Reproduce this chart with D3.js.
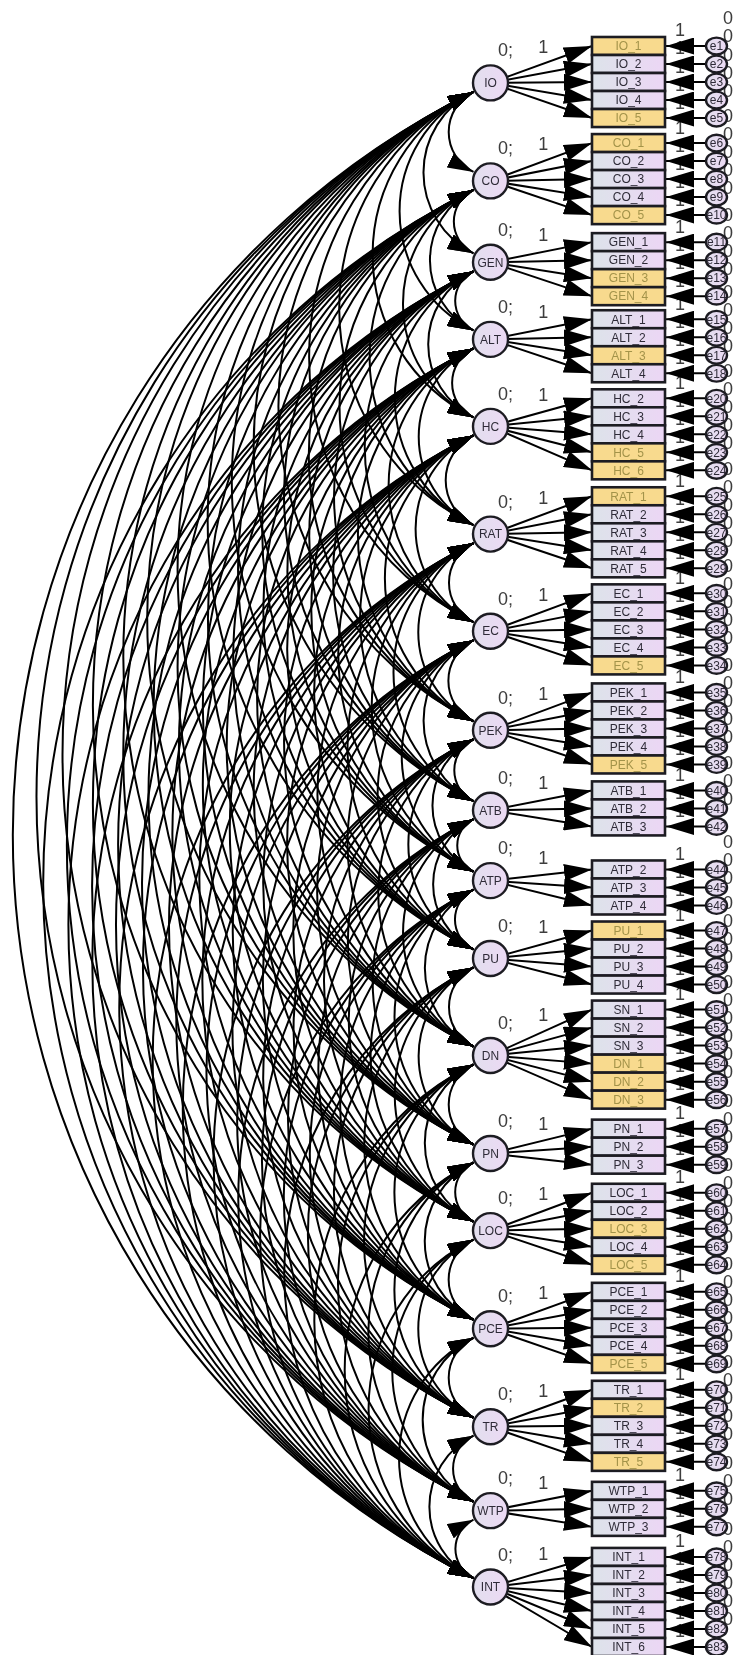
<!DOCTYPE html>
<html>
<head>
<meta charset="utf-8">
<script src="https://cdn.jsdelivr.net/npm/d3@7"></script>
<style>
  body { margin: 0; background: #fff; }
  text { font-family: "Liberation Sans", Arial, sans-serif; }
</style>
</head>
<body>
<div id="my_dataviz"></div>
<script>
// latent variables, top to bottom
const latentNames = ["IO", "CO", "GEN", "ALT", "HC", "RAT", "EC", "PEK", "ATB", "ATP", "PU", "DN", "PN", "LOC", "PCE", "TR", "WTP", "INT"];

// observed items of each latent
const indicatorLists = [
    ["IO_1", "IO_2", "IO_3", "IO_4", "IO_5"],
    ["CO_1", "CO_2", "CO_3", "CO_4", "CO_5"],
    ["GEN_1", "GEN_2", "GEN_3", "GEN_4"],
    ["ALT_1", "ALT_2", "ALT_3", "ALT_4"],
    ["HC_2", "HC_3", "HC_4", "HC_5", "HC_6"],
    ["RAT_1", "RAT_2", "RAT_3", "RAT_4", "RAT_5"],
    ["EC_1", "EC_2", "EC_3", "EC_4", "EC_5"],
    ["PEK_1", "PEK_2", "PEK_3", "PEK_4", "PEK_5"],
    ["ATB_1", "ATB_2", "ATB_3"],
    ["ATP_2", "ATP_3", "ATP_4"],
    ["PU_1", "PU_2", "PU_3", "PU_4"],
    ["SN_1", "SN_2", "SN_3", "DN_1", "DN_2", "DN_3"],
    ["PN_1", "PN_2", "PN_3"],
    ["LOC_1", "LOC_2", "LOC_3", "LOC_4", "LOC_5"],
    ["PCE_1", "PCE_2", "PCE_3", "PCE_4", "PCE_5"],
    ["TR_1", "TR_2", "TR_3", "TR_4", "TR_5"],
    ["WTP_1", "WTP_2", "WTP_3"],
    ["INT_1", "INT_2", "INT_3", "INT_4", "INT_5", "INT_6"]
];

// error terms, same order as the items
const errorLabels = [
    "e1", "e2", "e3", "e4", "e5", "e6", "e7", "e8", "e9", "e10",
    "e11", "e12", "e13", "e14", "e15", "e16", "e17", "e18",
    "e20", "e21", "e22", "e23", "e24", "e25", "e26", "e27", "e28", "e29",
    "e30", "e31", "e32", "e33", "e34", "e35", "e36", "e37", "e38", "e39",
    "e40", "e41", "e42", "e44", "e45", "e46", "e47", "e48", "e49", "e50",
    "e51", "e52", "e53", "e54", "e55", "e56", "e57", "e58", "e59",
    "e60", "e61", "e62", "e63", "e64", "e65", "e66", "e67", "e68", "e69",
    "e70", "e71", "e72", "e73", "e74", "e75", "e76", "e77",
    "e78", "e79", "e80", "e81", "e82", "e83"
];

// items highlighted in yellow
const flaggedItems = ["IO_1", "IO_5", "CO_1", "CO_5", "GEN_3", "GEN_4", "ALT_3", "HC_5", "HC_6", "RAT_1", "EC_5", "PEK_5", "PU_1", "DN_1", "DN_2", "DN_3", "LOC_3", "LOC_5", "PCE_5", "TR_2", "TR_5"];

// extra space above each item block and latent offset from block centre, in rows
const blockGaps = [0, 0.39, 0.5, 0.28, 0.39, 0.44, 0.39, 0.5, 0.44, 1.39, 0.39, 0.39, 0.61, 0.56, 0.5, 0.44, 0.61, 0.67];
const latentShifts = [0.05, 0.1, -0.38, -0.38, -0.44, 0.1, 0.1, 0.1, 0.1, -0.38, 0.05, 0.05, 0.38, 0.1, 0.05, 0.05, 0.1, -0.83];

const width = 734, height = 1655;
const itemLeft = 592, itemRight = 665, rowH = 18;
const latentX = 490.5, latentR = 17.5;
const errorX = 716.5;
const arcBulge = 0.31; // sagitta / chord of the covariance arcs

// work out every row position in row units
let cursor = 0;
const blocks = latentNames.map((name, i) => {
    cursor += blockGaps[i];
    const start = cursor;
    cursor += indicatorLists[i].length;
    return { name, i, start, items: indicatorLists[i] };
});
const lastRow = cursor - 1;

const y = d3.scaleLinear().domain([0, lastRow]).range([46, 1647]);

const rows = [];
blocks.forEach(b => {
    b.y = y(b.start + (b.items.length - 1) / 2 + latentShifts[b.i]);
    b.items.forEach((item, k) => {
        rows.push({ item, block: b, y: y(b.start + k), first: k === 0, error: errorLabels[rows.length] });
    });
});

const svg = d3.select("#my_dataviz").append("svg")
    .attr("width", width)
    .attr("height", height)
    .style("display", "block");

const defs = svg.append("defs");

function addArrow(id, len, wide) {
    defs.append("marker")
        .attr("id", id)
        .attr("markerUnits", "userSpaceOnUse")
        .attr("viewBox", `0 0 ${len} ${wide}`)
        .attr("refX", len)
        .attr("refY", wide / 2)
        .attr("markerWidth", len)
        .attr("markerHeight", wide)
        .attr("orient", "auto-start-reverse")
        .append("path")
        .attr("d", `M0,0L${len},${wide / 2}L0,${wide}Z`)
        .attr("fill", "#000");
}
addArrow("headArc", 26, 16);
addArrow("headLine", 28, 17);

const grad = defs.append("linearGradient").attr("id", "itemFill");
grad.append("stop").attr("offset", "0%").attr("stop-color", "#dde3ea");
grad.append("stop").attr("offset", "100%").attr("stop-color", "#ecd6f5");

const nodeGrad = defs.append("linearGradient").attr("id", "nodeFill");
nodeGrad.append("stop").attr("offset", "0%").attr("stop-color", "#e2dfee");
nodeGrad.append("stop").attr("offset", "100%").attr("stop-color", "#ecd9f4");

defs.append("filter").attr("id", "soft")
    .attr("filterUnits", "userSpaceOnUse")
    .attr("x", 0).attr("y", 0)
    .attr("width", width).attr("height", height)
    .append("feGaussianBlur").attr("stdDeviation", 0.5);

svg.append("rect").attr("width", width).attr("height", height).attr("fill", "#fff");
const root = svg.append("g").attr("filter", "url(#soft)");

// covariance arcs, one for each pair of latents
const pairs = d3.cross(blocks, blocks).filter(([a, b]) => a.i < b.i);
const attachX = latentX - 17, attachDy = 9;

root.append("g").selectAll("path")
    .data(pairs)
    .join("path")
    .attr("d", ([a, b]) => {
        const y0 = a.y + attachDy, y1 = b.y - attachDy;
        const c = y1 - y0;
        const r = c * (0.25 + arcBulge * arcBulge) / (2 * arcBulge);
        return `M${attachX},${y0}A${r},${r} 0 0 0 ${attachX},${y1}`;
    })
    .attr("fill", "none")
    .attr("stroke", "#000")
    .attr("stroke-width", 2)
    .attr("marker-start", "url(#headArc)")
    .attr("marker-end", "url(#headArc)");

// loading paths latent -> item
root.append("g").selectAll("line")
    .data(rows)
    .join("line")
    .attr("x1", latentX)
    .attr("y1", d => d.block.y)
    .attr("x2", itemLeft)
    .attr("y2", d => d.y)
    .attr("stroke", "#000")
    .attr("stroke-width", 2)
    .attr("marker-end", "url(#headLine)");

// the 1 on the first loading of each block
root.append("g").selectAll("text")
    .data(rows.filter(d => d.first))
    .join("text")
    .attr("x", (latentX + itemLeft) / 2 + 2)
    .attr("y", d => (d.block.y + d.y) / 2 - 18)
    .attr("dy", "0.36em")
    .attr("text-anchor", "middle")
    .attr("font-size", 18)
    .attr("fill", "#3c3c3c")
    .text("1");

// the 1 on each error path, sits under its arrow
root.append("g").selectAll("text")
    .data(rows)
    .join("text")
    .attr("x", 680)
    .attr("y", d => d.y - 16)
    .attr("dy", "0.36em")
    .attr("text-anchor", "middle")
    .attr("font-size", 18)
    .attr("fill", "#3c3c3c")
    .text("1");

// error variances, also under the ellipses
root.append("g").selectAll("text")
    .data(rows)
    .join("text")
    .attr("x", 728)
    .attr("y", d => d.y - 28)
    .attr("dy", "0.36em")
    .attr("text-anchor", "middle")
    .attr("font-size", 18)
    .attr("fill", "#3c3c3c")
    .text("0");

// error paths
root.append("g").selectAll("line")
    .data(rows)
    .join("line")
    .attr("x1", errorX)
    .attr("y1", d => d.y)
    .attr("x2", itemRight + 1)
    .attr("y2", d => d.y)
    .attr("stroke", "#000")
    .attr("stroke-width", 2)
    .attr("marker-end", "url(#headLine)");

// item boxes
const itemG = root.append("g").selectAll("g")
    .data(rows)
    .join("g");

itemG.append("rect")
    .attr("x", itemLeft)
    .attr("y", d => d.y - rowH / 2)
    .attr("width", itemRight - itemLeft)
    .attr("height", rowH)
    .attr("fill", d => flaggedItems.includes(d.item) ? "#f8da8e" : "url(#itemFill)")
    .attr("stroke", "#1f1d24")
    .attr("stroke-width", 2.6);

itemG.append("text")
    .attr("x", (itemLeft + itemRight) / 2)
    .attr("y", d => d.y)
    .attr("dy", "0.36em")
    .attr("text-anchor", "middle")
    .attr("font-size", 12)
    .attr("fill", d => flaggedItems.includes(d.item) ? "#a3934a" : "#2f2c38")
    .text(d => d.item);

// error ellipses
const errorG = root.append("g").selectAll("g")
    .data(rows)
    .join("g");

errorG.append("ellipse")
    .attr("cx", errorX)
    .attr("cy", d => d.y)
    .attr("rx", 10.5)
    .attr("ry", 8.4)
    .attr("fill", "url(#nodeFill)")
    .attr("stroke", "#1f1d24")
    .attr("stroke-width", 2.4);

errorG.append("text")
    .attr("x", errorX)
    .attr("y", d => d.y)
    .attr("dy", "0.36em")
    .attr("text-anchor", "middle")
    .attr("font-size", 12)
    .attr("fill", "#2f2c38")
    .text(d => d.error);

// latent circles
const latentG = root.append("g").selectAll("g")
    .data(blocks)
    .join("g");

latentG.append("circle")
    .attr("cx", latentX)
    .attr("cy", d => d.y)
    .attr("r", latentR)
    .attr("fill", "url(#nodeFill)")
    .attr("stroke", "#1f1d24")
    .attr("stroke-width", 2.4);

latentG.append("text")
    .attr("x", latentX)
    .attr("y", d => d.y)
    .attr("dy", "0.36em")
    .attr("text-anchor", "middle")
    .attr("font-size", 12)
    .attr("fill", "#2f2c38")
    .text(d => d.name);

latentG.append("text")
    .attr("x", latentX + 7.5)
    .attr("y", d => d.y - 33)
    .attr("dy", "0.36em")
    .attr("font-size", 18)
    .attr("fill", "#3c3c3c")
    .text("0;");
</script>
</body>
</html>
